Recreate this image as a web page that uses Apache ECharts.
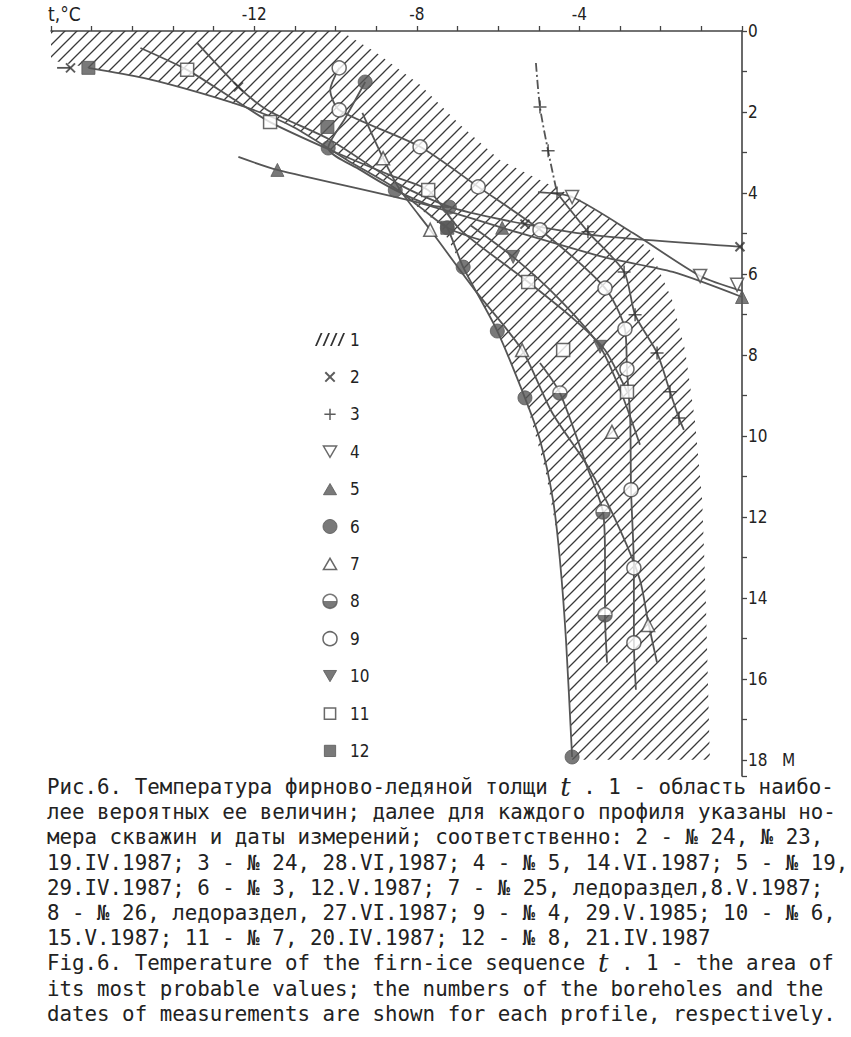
<!DOCTYPE html>
<html><head><meta charset="utf-8">
<script src="https://cdn.jsdelivr.net/npm/echarts@6/dist/echarts.min.js"></script>
<style>html,body{margin:0;padding:0;background:#fff}#c{width:851px;height:1037px}</style>
</head><body><div id="c"></div>
<script>
// ---- tick labels ----
const xTickLabels = [-12, -8, -4];
const yTickLabels = [0, 2, 4, 6, 8, 10, 12, 14, 16, 18];
const legendNames = ['1','2','3','4','5','6','7','8','9','10','11','12'];

// ---- 1: area of most probable values (boundaries, [t, depth]) ----
const hatchUpper = [[-17,0],[-9.88,0],[-9.02,0.52],[-7.92,1.33],[-6.93,2.32],[-5.95,3.19],[-4.97,3.68],[-3.98,4.17],[-2.99,4.79],[-2.26,5.41],[-1.72,6.64],[-1.40,7.88],[-1.16,9.60],[-0.98,11.58],[-0.89,14.05],[-0.79,18.0]];
const hatchLower = [[-17,0.72],[-16.08,0.91],[-14.73,1.16],[-13.33,1.53],[-12.02,1.95],[-11.04,2.37],[-9.71,3.19],[-8.58,3.85],[-7.43,4.79],[-6.86,5.83],[-6.02,7.41],[-5.34,9.06],[-4.84,10.84],[-4.48,12.81],[-4.30,15.04],[-4.18,18.0]];

// ---- profiles: markers and curve vertices, [t (°C), depth (m)] ----
const p2Markers = [[-16.52,0.91],[-12.39,1.38],[-5.34,4.77],[-0.05,5.33]];
const p2Lines = [[[-16.85,0.91],[-16.52,0.91]],
  [[-13.40,0.30],[-12.39,1.38],[-11.68,1.95],[-10.13,2.69],[-8.41,3.80],[-7.11,4.37],[-5.34,4.77],[-3.49,5.06],[0,5.33]]];
const p3Markers = [[-4.97,1.88],[-4.77,2.96],[-4.55,4.00],[-3.79,4.96],[-2.90,5.95],[-2.63,7.01],[-2.09,7.95],[-1.77,8.91],[-1.55,9.56]];
const p3Lines = [[[-5.07,0.79],[-4.97,1.88],[-4.77,2.96],[-4.55,4.00]],
  [[-4.55,4.00],[-3.79,4.96],[-2.90,5.95],[-2.63,7.01],[-2.09,7.95],[-1.77,8.91],[-1.55,9.56],[-1.43,9.85]]];
const p4Markers = [[-4.18,4.10],[-1.03,6.05],[-0.12,6.27]];
const p4Lines = [[[-5.02,3.98],[-4.18,4.10],[-2.68,4.99],[-1.03,6.05],[0,6.42]]];
const p5Markers = [[-11.43,3.43],[-5.90,4.86],[0,6.57]];
const p5Lines = [[[-12.39,3.11],[-11.43,3.43],[-7.92,4.25],[-5.90,4.86],[-3.42,5.58],[-1.70,5.95],[0,6.57]]];
const p6Markers = [[-9.27,1.26],[-10.18,2.89],[-8.53,3.93],[-7.20,4.35],[-7.25,4.86],[-6.86,5.83],[-6.02,7.41],[-5.34,9.06],[-4.18,17.93]];
const p6Lines = [[[-9.27,1.26],[-9.76,2.15],[-10.18,2.89],[-9.39,3.43],[-8.53,3.93],[-7.67,4.30],[-7.20,4.35]],
  [[-7.43,4.72],[-7.25,4.86],[-6.86,5.83],[-6.02,7.41],[-5.34,9.06],[-4.97,10.10],[-4.65,11.58],[-4.48,13.06],[-4.33,15.04],[-4.18,17.93]]];
const p7Markers = [[-8.83,3.14],[-7.67,4.91],[-5.41,7.88],[-3.20,9.90],[-2.31,14.67]];
const p7Lines = [[[-9.34,2.02],[-8.83,3.14],[-8.41,3.93],[-7.67,4.91],[-6.57,6.40],[-5.41,7.88],[-4.67,9.43],[-3.74,10.84],[-3.00,12.32],[-2.51,13.56],[-2.31,14.59],[-2.09,15.60]]];
const p8Markers = [[-4.48,8.94],[-3.42,11.88],[-3.37,14.42]];
const p8Lines = [[[-4.97,8.20],[-4.48,8.94],[-3.81,10.77],[-3.42,11.88],[-3.37,13.06],[-3.37,14.42],[-3.32,15.60]]];
const p9Markers = [[-9.91,0.91],[-9.91,1.95],[-7.92,2.86],[-6.49,3.85],[-4.97,4.91],[-3.37,6.35],[-2.88,7.36],[-2.83,8.35],[-2.73,11.33],[-2.66,13.26],[-2.66,15.11]];
const p9Lines = [[[-9.91,0.91],[-10.13,1.46],[-9.91,1.95],[-7.92,2.86],[-6.49,3.85],[-4.97,4.91],[-3.37,6.35],[-2.88,7.36],[-2.83,8.35],[-2.75,9.60],[-2.73,11.33],[-2.66,13.26],[-2.66,15.11],[-2.61,16.27]]];
const p10Markers = [[-5.63,5.58],[-3.49,7.80]];
const p10Lines = [[[-6.69,4.79],[-5.63,5.58],[-4.48,6.64],[-3.49,7.80],[-2.95,8.99],[-2.51,10.22]]];
const p11Markers = [[-13.65,0.96],[-11.61,2.25],[-7.72,3.93],[-5.26,6.20],[-4.40,7.88],[-2.83,8.91]];
const p11Lines = [[[-14.80,0.42],[-13.65,0.96],[-12.59,1.63],[-11.61,2.25],[-10.13,2.94],[-8.66,3.56],[-7.72,3.93],[-6.93,4.91],[-5.26,6.20],[-4.11,7.14],[-3.37,7.88],[-2.83,8.91]]];
const p12Markers = [[-16.08,0.91],[-10.20,2.37],[-7.25,4.86]];
const p12Lines = [[[-16.08,0.91],[-14.73,1.16],[-13.33,1.53],[-12.02,1.95],[-11.04,2.37],[-9.71,3.19],[-8.58,3.85],[-7.92,4.35],[-7.25,4.86],[-6.44,5.16]]];

// ---- caption ----
const captionLines = [
  'Рис.6. Температура фирново-ледяной толщи {t|t} . 1 - область наибо-',
  'лее вероятных ее величин; далее для каждого профиля указаны но-',
  'мера скважин и даты измерений; соответственно: 2 - № 24, № 23,',
  '19.IV.1987; 3 - № 24, 28.VI,1987; 4 - № 5, 14.VI.1987; 5 - № 19,',
  '29.IV.1987; 6 - № 3, 12.V.1987; 7 - № 25, ледораздел,8.V.1987;',
  '8 - № 26, ледораздел, 27.VI.1987; 9 - № 4, 29.V.1985; 10 - № 6,',
  '15.V.1987; 11 - № 7, 20.IV.1987; 12 - № 8, 21.IV.1987',
  'Fig.6. Temperature of the firn-ice sequence {t|t} . 1 - the area of',
  'its most probable values; the numbers of the boreholes and the',
  'dates of measurements are shown for each profile, respectively.'
];

// ---- styles ----
const LINE = '#555';
const DARK = '#444';
const FILL = '#585858';
const X_PATH = 'path://M0,0L10,10M10,0L0,10';
const PLUS_PATH = 'path://M5,0L5,10M0,5L10,5';
// legend icons drawn inside a 30x14 box so that they keep their proportions
const HATCH_ICON = 'path://M0,14L2,14L8,0L6,0Z M8,14L10,14L16,0L14,0Z M16,14L18,14L24,0L22,0Z M24,14L26,14L32,0L30,0Z';
const LEG_X = 'path://M0,0M32,14M11,2L21,12M21,2L11,12';
const LEG_PLUS = 'path://M0,0M32,14M16,1L16,13M10,7L22,7';
const LEG_DOWN = 'path://M0,0M32,14M9,1L23,1L16,13Z';
const LEG_UP = 'path://M0,0M32,14M9,13L23,13L16,1Z';
const LEG_RECT = 'path://M0,0M32,14M10,1L22,1L22,13L10,13Z';
const halfFill = new echarts.graphic.LinearGradient(0,0,0,1,[
  {offset:0,color:'#fff'},{offset:0.5,color:'#fff'},{offset:0.5,color:FILL},{offset:1,color:FILL}]);

function makeHatch(){
  const s = 12;
  const c = document.createElement('canvas'); c.width = s; c.height = s;
  const g = c.getContext('2d');
  g.strokeStyle = '#3a3a3a'; g.lineWidth = 1.3; g.lineCap = 'square';
  g.beginPath();
  g.moveTo(0,s); g.lineTo(s,0);
  g.moveTo(-2,2); g.lineTo(2,-2);
  g.moveTo(s-2,s+2); g.lineTo(s+2,s-2);
  g.stroke();
  return {image: c.toDataURL(), repeat:'repeat', imageWidth:s, imageHeight:s};
}
const hatchFill = makeHatch();

const profiles = [
  {name:'2', markers:p2Markers, lines:p2Lines, symbol:X_PATH, legIcon:LEG_X, size:9, item:{color:'transparent', borderColor:'#333', borderWidth:2}},
  {name:'3', markers:p3Markers, lines:p3Lines, symbol:PLUS_PATH, legIcon:LEG_PLUS, size:13, item:{color:'transparent', borderColor:'#333', borderWidth:1.5}, dashFirst:true},
  {name:'4', markers:p4Markers, lines:p4Lines, symbol:'triangle', legIcon:LEG_DOWN, rotate:180, size:13, item:{color:'#fff', borderColor:DARK, borderWidth:1.5}},
  {name:'5', markers:p5Markers, lines:p5Lines, symbol:'triangle', legIcon:LEG_UP, size:13, item:{color:FILL, borderColor:FILL, borderWidth:1}},
  {name:'6', markers:p6Markers, lines:p6Lines, symbol:'circle', legIcon:'circle', size:14, item:{color:FILL, borderColor:FILL, borderWidth:1}},
  {name:'7', markers:p7Markers, lines:p7Lines, symbol:'triangle', legIcon:LEG_UP, size:13, item:{color:'#fff', borderColor:DARK, borderWidth:1.5}},
  {name:'8', markers:p8Markers, lines:p8Lines, symbol:'circle', legIcon:'circle', size:14, item:{color:halfFill, borderColor:FILL, borderWidth:1.5}},
  {name:'9', markers:p9Markers, lines:p9Lines, symbol:'circle', legIcon:'circle', size:14, item:{color:'#fff', borderColor:DARK, borderWidth:1.5}},
  {name:'10', markers:p10Markers, lines:p10Lines, symbol:'triangle', legIcon:LEG_DOWN, rotate:180, size:13, item:{color:FILL, borderColor:FILL, borderWidth:1}},
  {name:'11', markers:p11Markers, lines:p11Lines, symbol:'rect', legIcon:LEG_RECT, size:13, item:{color:'#fff', borderColor:DARK, borderWidth:1.5}},
  {name:'12', markers:p12Markers, lines:p12Lines, symbol:'rect', legIcon:LEG_RECT, size:13, item:{color:FILL, borderColor:FILL, borderWidth:1}}
];

const series = [{
  type:'custom', name:'1', coordinateSystem:'cartesian2d', data:[[0,0]], z:1, silent:true,
  itemStyle:{color:'#333'},
  renderItem:function(params, api){
    const pts = hatchUpper.map(p => api.coord(p)).concat(hatchLower.slice().reverse().map(p => api.coord(p)));
    return {type:'polygon', shape:{points:pts}, style:{fill:hatchFill, stroke:null}};
  }
}];
profiles.forEach(pr => {
  pr.lines.forEach((ln, i) => {
    series.push({
      type:'line', name:'line'+pr.name+'_'+i, data:ln, showSymbol:false, symbol:'none', smooth:0.25,
      z:2, silent:true,
      lineStyle:{color:LINE, width:1.8, type:(pr.dashFirst && i===0) ? [9,3,2,3] : 'solid'}
    });
  });
});
profiles.forEach(pr => {
  series.push({
    type:'scatter', name:pr.name, data:pr.markers, symbol:pr.symbol, symbolSize:pr.size,
    symbolKeepAspect:true,
    symbolRotate:pr.rotate || 0, z:3, silent:true, itemStyle:pr.item
  });
});

const labelFont = '"DejaVu Sans Condensed", "Liberation Sans Narrow", "DejaVu Sans", sans-serif';
const monoFont = '"DejaVu Sans Mono", "Liberation Mono", monospace';

const graphic = [{
  type:'text', x:48, y:14, style:{text:'t,°C', fontSize:19, fontFamily:labelFont, fill:'#222', verticalAlign:'middle'}
}];
captionLines.forEach((txt, i) => {
  graphic.push({
    type:'text', x:47, y:787 + i*25.2,
    style:{text:txt, fontSize:20.8, fontFamily:monoFont, fill:'#222', verticalAlign:'middle',
      rich:{t:{fontStyle:'italic', fontFamily:'"DejaVu Serif", serif', fontSize:26, fill:'#222'}}}
  });
});

const legendData = legendNames.map(n => {
  if (n === '1') return {name:'1', icon:HATCH_ICON};
  const pr = profiles.find(p => p.name === n);
  return {name:n, icon:pr.legIcon, itemStyle:pr.item};
});

const chart = echarts.init(document.getElementById('c'), null, {renderer:'svg', width:851, height:1037});
chart.setOption({
  animation:false,
  backgroundColor:'#fff',
  grid:{left:51, right:109, top:31, bottom:261, containLabel:false, outerBoundsMode:'none'},
  xAxis:{
    type:'value', position:'top', min:-17, max:0, interval:1,
    axisLine:{show:true, lineStyle:{color:DARK, width:1.6}},
    axisTick:{show:true, length:5, inside:false, lineStyle:{color:DARK, width:1.3}},
    axisLabel:{formatter:v => xTickLabels.includes(v) ? String(v) : '', margin:9, fontSize:17, color:'#222', fontFamily:labelFont},
    splitLine:{show:false}
  },
  yAxis:{
    type:'value', position:'right', inverse:true, min:0, max:18.4, interval:1,
    axisLine:{show:true, lineStyle:{color:DARK, width:1.6}},
    axisTick:{show:true, length:5, inside:false, lineStyle:{color:DARK, width:1.3}},
    axisLabel:{formatter:v => yTickLabels.includes(v) ? (v === 18 ? '18   M' : String(v)) : '', margin:6, fontSize:17, color:'#222', fontFamily:labelFont},
    splitLine:{show:false}
  },
  legend:{
    orient:'vertical', left:309, top:326, itemWidth:30, itemHeight:14, itemGap:20.4,
    selectedMode:false, symbolKeepAspect:true,
    textStyle:{fontSize:17, color:'#222', fontFamily:labelFont},
    data:legendData
  },
  graphic:graphic,
  series:series
});
</script></body></html>
